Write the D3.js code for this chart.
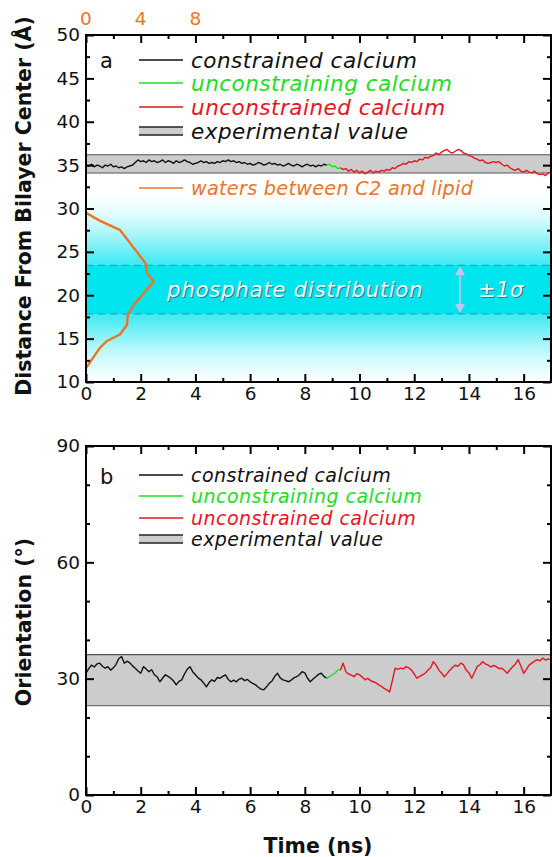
<!DOCTYPE html>
<html>
<head>
<meta charset="utf-8">
<script src="https://cdn.jsdelivr.net/npm/d3@7"></script>
<style>
  body { margin: 0; background: #fff; }
  svg { display: block; }
  text { font-family: "DejaVu Sans", sans-serif; }
</style>
</head>
<body>
<svg id="chart" width="552" height="857"></svg>
<script>
// ---------- data ----------
const timeStep = 0.1;                  // ns between samples
const segmentStart = [0, 8.8, 9.3];    // ns: constrained, unconstraining, unconstrained

// distance of the C2 domain calcium from bilayer centre (Å)
const distConstrained = [
  35.0, 34.9, 35.1, 34.8, 35.0, 34.9, 34.7, 35.0, 34.9, 35.1,
  34.8, 34.9, 34.7, 34.8, 34.6, 34.8, 34.9, 35.0, 35.3, 35.6,
  35.4, 35.5, 35.3, 35.6, 35.4, 35.5, 35.3, 35.4, 35.6, 35.3,
  35.5, 35.4, 35.2, 35.5, 35.3, 35.4, 35.6, 35.4, 35.3, 35.1,
  35.2, 35.3, 35.5, 35.3, 35.4, 35.2, 35.3, 35.2, 35.4, 35.3,
  35.5, 35.4, 35.6, 35.4, 35.5, 35.3, 35.4, 35.2, 35.3, 35.1,
  35.2, 35.0, 35.1, 35.3, 35.2, 35.0, 35.1, 35.3, 35.1, 35.2,
  35.0, 35.1, 34.9, 35.0, 35.2, 35.0, 34.9, 35.1, 35.0, 34.8,
  35.0, 35.1, 34.9, 35.0, 34.8, 35.0, 34.9, 35.1, 35.0
];
const distUnconstraining = [35.0, 35.1, 34.8, 34.9, 34.6, 34.7];
const distUnconstrained = [
  34.7, 34.5, 34.6, 34.3, 34.5, 34.2, 34.4,
  34.1, 34.3, 34.0, 34.2, 34.4, 34.1, 34.3, 34.2, 34.4, 34.3,
  34.5, 34.4, 34.7, 34.6, 34.9, 35.0, 35.2, 35.1, 35.4, 35.3,
  35.5, 35.4, 35.7, 35.6, 35.9, 35.8, 36.0, 36.1, 36.4, 36.2,
  36.5, 36.7, 36.8, 36.5, 36.4, 36.6, 36.8, 36.7, 36.4, 36.3,
  36.1, 36.0, 35.8, 35.7, 35.5, 35.6, 35.3, 35.2, 35.3, 35.4,
  35.3, 35.4, 35.1, 34.9, 35.0, 34.7, 34.5, 34.4, 34.6, 34.3,
  34.2, 34.4, 34.2, 34.1, 34.3, 34.0, 33.9, 34.0, 33.8, 34.1,
  34.2
];

// orientation of the C2 domain (degrees)
const orientConstrained = [
  31.4, 32.6, 33.5, 33.0, 33.8, 34.0, 33.2, 32.7, 33.1, 32.2,
  32.8, 33.7, 35.2, 35.7, 34.0, 34.5, 34.1, 33.3, 32.7, 32.0,
  31.4, 33.1, 32.5, 31.8, 32.3, 31.0, 30.5, 29.2, 30.1, 31.0,
  30.6, 30.1, 29.4, 28.4, 29.3, 29.7, 31.2, 32.4, 33.1, 31.8,
  31.0, 30.2, 29.7, 28.9, 27.9, 29.0, 29.7, 29.3, 30.3, 30.1,
  30.6, 31.0, 29.8, 29.2, 29.6, 29.2, 29.9, 30.1, 29.5, 29.8,
  29.2, 28.8, 28.4, 27.8, 27.3, 27.1, 27.9, 28.8, 29.4, 30.6,
  31.4, 30.2, 29.7, 29.5, 29.2, 29.6, 30.2, 30.5, 31.0, 31.8,
  31.5, 30.1, 29.2, 29.9, 30.5, 31.1, 31.4, 30.6, 30.1
];
const orientUnconstraining = [30.1, 30.5, 31.0, 31.4, 32.2, 32.2];
const orientUnconstrained = [
  32.2, 34.0, 31.8, 31.2, 30.9, 30.5, 31.3,
  31.0, 30.4, 29.7, 30.1, 29.5, 29.2, 28.9, 28.4, 28.0, 27.5,
  27.1, 26.6, 29.5, 32.7, 32.4, 32.7, 32.5, 33.1, 32.8, 32.2,
  31.2, 30.1, 30.6, 31.0, 31.4, 32.2, 32.8, 34.4, 33.5, 32.2,
  31.4, 30.5, 31.3, 32.2, 32.9, 33.5, 33.2, 34.0, 33.6, 32.2,
  31.5, 30.1, 31.6, 33.1, 33.6, 34.4, 33.8, 33.5, 33.0, 33.4,
  33.1, 32.6, 32.7, 32.1, 31.4, 32.3, 33.1, 33.8, 34.9, 33.2,
  31.4, 32.4, 33.5, 34.0, 34.5, 34.9, 34.6, 35.3, 34.8, 35.1,
  34.9
];

const distExperimental = [34.1, 36.2];
const orientExperimental = [23.0, 36.2];

const phosphateMean = 20.65;
const phosphateSigma = 2.8;

// water count profile between the C2 domain and the lipid
const waterCount    = [0, 1.0, 2.5, 4.35, 4.45, 4.95, 3.4, 3.05, 3.0, 2.5, 1.5, 1.0, 0];
const waterDistance = [29.5, 28.6, 27.5, 23.7, 22.6, 21.6, 18.7, 17.7, 16.6, 15.5, 14.7, 13.9, 11.6];

const timeTicks = [0, 2, 4, 6, 8, 10, 12, 14, 16];
const timeMinor = d3.range(1, 17, 2);
const distTicks = [10, 15, 20, 25, 30, 35, 40, 45, 50];
const distMinor = d3.range(12.5, 50, 5);
const orientTicks = [0, 30, 60, 90];
const orientMinor = [10, 20, 40, 50, 70, 80];
const waterTicks = [0, 4, 8];

const seriesNames = ["constrained calcium", "unconstraining calcium", "unconstrained calcium", "experimental value"];
const waterName = "waters between C2 and lipid";

// ---------- styles ----------
const C_BLACK = "#111", C_GREEN = "#22dd22", C_RED = "#e8141e", C_ORANGE = "#ec7424";
const C_CYAN = "#00e4ee", C_BAND = "#cccccc";
const segColors = [C_BLACK, C_GREEN, C_RED];

const svg = d3.select("#chart");
const defs = svg.append("defs");

const X0 = 86, X1 = 551;
const x = d3.scaleLinear().domain([0, 17]).range([X0, X1]);
const xw = d3.scaleLinear().domain([0, 34]).range([X0, X1]);

function segPoints(vals, start) {
  return vals.map((v, i) => ({ t: start + i * timeStep, v }));
}

function legendText(sel, size, spacing) {
  return sel.attr("font-size", size).attr("font-style", "italic").attr("letter-spacing", spacing);
}

function drawPanel(o) {
  const y = d3.scaleLinear().domain(o.domain).range([o.bottom, o.top]);
  const g = svg.append("g");
  const clipId = "clip-" + o.key;
  defs.append("clipPath").attr("id", clipId)
    .append("rect").attr("x", X0).attr("y", o.top).attr("width", X1 - X0).attr("height", o.bottom - o.top);
  const plot = g.append("g").attr("clip-path", `url(#${clipId})`);
  if (o.before) o.before(plot, y);

  // experimental band
  plot.append("rect")
    .attr("x", X0).attr("width", X1 - X0)
    .attr("y", y(o.band[1])).attr("height", y(o.band[0]) - y(o.band[1]))
    .attr("fill", C_BAND);
  o.band.forEach(b => plot.append("line")
    .attr("x1", X0).attr("x2", X1).attr("y1", y(b)).attr("y2", y(b))
    .attr("stroke", "#555").attr("stroke-width", 1.1));

  // trajectory segments
  const line = d3.line().x(d => x(d.t)).y(d => y(d.v));
  o.segments.forEach((vals, i) => {
    plot.append("path").datum(segPoints(vals, segmentStart[i]))
      .attr("d", line).attr("fill", "none")
      .attr("stroke", segColors[i]).attr("stroke-width", 1.4).attr("stroke-linejoin", "round");
  });
  if (o.after) o.after(plot, y);

  // axes with inward ticks
  const ax = (gen, tr) => g.append("g").attr("transform", tr).call(gen)
    .call(s => s.select(".domain").remove())
    .call(s => s.selectAll("line").attr("stroke", "#000").attr("stroke-width", 2))
    .call(s => s.selectAll("text").attr("font-size", 18.5).attr("fill", "#111").style("font-family", '"DejaVu Sans", sans-serif'));

  ax(d3.axisBottom(x).tickValues(timeTicks).tickSize(-8).tickPadding(5).tickFormat(d3.format("d")), `translate(0,${o.bottom})`);
  ax(d3.axisBottom(x).tickValues(timeMinor).tickSize(-4).tickFormat(""), `translate(0,${o.bottom})`);
  ax(d3.axisTop(x).tickValues(timeTicks).tickSize(-8).tickFormat(""), `translate(0,${o.top})`);
  ax(d3.axisTop(x).tickValues(timeMinor).tickSize(-4).tickFormat(""), `translate(0,${o.top})`);
  ax(d3.axisLeft(y).tickValues(o.ticks).tickSize(-8).tickPadding(6).tickFormat(d3.format("d")), `translate(${X0},0)`);
  ax(d3.axisLeft(y).tickValues(o.minor).tickSize(-4).tickFormat(""), `translate(${X0},0)`);
  ax(d3.axisRight(y).tickValues(o.ticks).tickSize(-8).tickFormat(""), `translate(${X1},0)`);
  ax(d3.axisRight(y).tickValues(o.minor).tickSize(-4).tickFormat(""), `translate(${X1},0)`);

  g.append("rect").attr("x", X0).attr("y", o.top).attr("width", X1 - X0).attr("height", o.bottom - o.top)
    .attr("fill", "none").attr("stroke", "#000").attr("stroke-width", 2);

  // panel letter
  g.append("text").attr("x", 100).attr("y", o.letterY).attr("font-size", 21).attr("fill", "#111").text(o.key);

  // legend
  const lg = g.append("g");
  const lx0 = 139, lx1 = 183, tx = 191;
  o.legendRows.forEach((ry, i) => {
    if (i < 3) {
      lg.append("line").attr("x1", lx0).attr("x2", lx1).attr("y1", ry).attr("y2", ry)
        .attr("stroke", segColors[i]).attr("stroke-width", 1.6);
    } else {
      lg.append("rect").attr("x", lx0).attr("y", ry - 4).attr("width", lx1 - lx0).attr("height", 8).attr("fill", C_BAND);
      [ry - 4, ry + 4].forEach(yy => lg.append("line").attr("x1", lx0).attr("x2", lx1).attr("y1", yy).attr("y2", yy)
        .attr("stroke", "#222").attr("stroke-width", 1.6));
    }
    lg.append("text").attr("x", tx).attr("y", ry).attr("dy", "0.35em")
      .call(legendText, o.legendSize, o.legendSpacing)
      .attr("fill", i === 3 ? C_BLACK : segColors[i]).text(seriesNames[i]);
  });
  return y;
}

// ---------- panel a: distance ----------
drawPanel({
  key: "a", top: 35, bottom: 382, domain: [10, 50],
  ticks: distTicks, minor: distMinor, band: distExperimental,
  segments: [distConstrained, distUnconstraining, distUnconstrained],
  letterY: 68, legendRows: [60, 83, 107, 131], legendSize: 21.5, legendSpacing: 0.5,
  before(plot, y) {
    // phosphate distribution: solid within ±1σ, fading outwards
    const grad = defs.append("linearGradient").attr("id", "phos")
      .attr("gradientUnits", "userSpaceOnUse")
      .attr("x1", 0).attr("x2", 0)
      .attr("y1", y(phosphateMean + 4 * phosphateSigma)).attr("y2", y(phosphateMean - 4 * phosphateSigma));
    const fade = [[-4, 0], [-3.6, 0.04], [-3.0, 0.14], [-2.4, 0.3], [-1.8, 0.5], [-1.3, 0.68], [-1.02, 0.76],
                  [-1.0, 1], [1.0, 1], [1.02, 0.76], [1.3, 0.68], [1.8, 0.5], [2.4, 0.3], [3.0, 0.14], [3.6, 0.04], [4, 0]];
    fade.forEach(([k, a]) => grad.append("stop")
      .attr("offset", (k + 4) / 8).attr("stop-color", C_CYAN).attr("stop-opacity", a));
    plot.append("rect").attr("x", X0).attr("width", X1 - X0)
      .attr("y", y(phosphateMean + 4 * phosphateSigma))
      .attr("height", y(phosphateMean - 4 * phosphateSigma) - y(phosphateMean + 4 * phosphateSigma))
      .attr("fill", "url(#phos)");
    [phosphateMean + phosphateSigma, phosphateMean - phosphateSigma].forEach(v =>
      plot.append("line").attr("x1", X0).attr("x2", X1).attr("y1", y(v)).attr("y2", y(v))
        .attr("stroke", "#3a9cc0").attr("stroke-width", 1.3).attr("stroke-dasharray", "7,5"));

    const shadowText = (tx, ty, str, size, spacing) => {
      plot.append("text").attr("x", tx + 1.2).attr("y", ty + 1.2).call(legendText, size, spacing)
        .attr("fill", "#2d7f8a").text(str);
      plot.append("text").attr("x", tx).attr("y", ty).call(legendText, size, spacing)
        .attr("fill", "#effefe").text(str);
    };
    shadowText(167, y(phosphateMean) + 7.5, "phosphate distribution", 21.5, 0.6);
    shadowText(478, y(phosphateMean) + 7.5, "±1σ", 21, 0.5);

    // ±1σ arrow
    const ax = 460, ya = y(phosphateMean + phosphateSigma), yb = y(phosphateMean - phosphateSigma);
    plot.append("line").attr("x1", ax).attr("x2", ax).attr("y1", ya + 2).attr("y2", yb - 2)
      .attr("stroke", "#c4c4f2").attr("stroke-width", 1.6);
    [[ya + 1, 1], [yb - 1, -1]].forEach(([yy, s]) =>
      plot.append("path").attr("d", `M${ax},${yy} L${ax - 5},${yy + s * 9} L${ax + 5},${yy + s * 9} Z`).attr("fill", "#c4c4f2"));
  },
  after(plot, y) {
    const wl = d3.line().x(d => xw(d)).y((d, i) => y(waterDistance[i]));
    plot.append("path").datum(waterCount).attr("d", wl).attr("fill", "none")
      .attr("stroke", C_ORANGE).attr("stroke-width", 2.4).attr("stroke-linejoin", "round");
    // water legend entry
    plot.append("line").attr("x1", 139).attr("x2", 183).attr("y1", 188).attr("y2", 188)
      .attr("stroke", C_ORANGE).attr("stroke-width", 1.6);
    plot.append("text").attr("x", 191).attr("y", 188).attr("dy", "0.35em")
      .call(legendText, 19.2, 0.3).attr("fill", C_ORANGE).text(waterName);
  }
});

// secondary (water count) axis labels on top
svg.append("g").selectAll("text").data(waterTicks).join("text")
  .attr("x", d => xw(d)).attr("y", 25).attr("text-anchor", "middle")
  .attr("font-size", 18.5).attr("fill", C_ORANGE).text(d => d);

// ---------- panel b: orientation ----------
drawPanel({
  key: "b", top: 446, bottom: 795, domain: [0, 90],
  ticks: orientTicks, minor: orientMinor, band: orientExperimental,
  segments: [orientConstrained, orientUnconstraining, orientUnconstrained],
  letterY: 484, legendRows: [475, 496, 518, 539], legendSize: 19, legendSpacing: 0.45
});

// ---------- axis titles ----------
const title = (sel) => sel.attr("text-anchor", "middle").attr("font-size", 20.5)
  .attr("font-weight", "bold").attr("fill", "#111");
svg.append("text").attr("transform", "translate(31,206) rotate(-90)").call(title)
  .text("Distance From Bilayer Center (Å)");
svg.append("text").attr("transform", "translate(31,622) rotate(-90)").call(title)
  .text("Orientation (°)");
svg.append("text").attr("x", 318).attr("y", 853).call(title)
  .text("Time (ns)");
</script>
</body>
</html>
